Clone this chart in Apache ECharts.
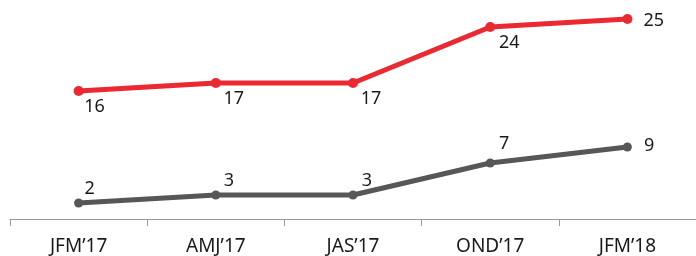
<!DOCTYPE html>
<html>
<head>
<meta charset="utf-8">
<style>
  html, body { margin: 0; padding: 0; background: #fff; }
  #chart { width: 696px; height: 256px; }
</style>
<script src="https://cdn.jsdelivr.net/npm/echarts@6/dist/echarts.min.js"></script>
</head>
<body>
<div id="chart"></div>
<script>
// quarters on the x axis
const quarters = ["JFM\u201917", "AMJ\u201917", "JAS\u201917", "OND\u201917", "JFM\u201918"];
// upper (red) line
const redValues = [16, 17, 17, 24, 25];
// lower (grey) line
const greyValues = [2, 3, 3, 7, 9];

const labelFont = { fontFamily: "Noto Sans", fontSize: 18, color: "#1a1a1a" };

// label nudges per point
const redLabelOffsets = [[16, 0], [18, 0], [18, 0], [19, 0], [0, 2]];
const greyLabelOffsets = [[11, 0], [13, 0], [14, 0], [14, -5], [0, -1]];

const chart = echarts.init(document.getElementById("chart"));

chart.setOption({
  animation: false,
  grid: { left: 10, right: 0, top: 3, bottom: 32 },
  xAxis: {
    type: "category",
    data: quarters,
    boundaryGap: true,
    axisLine: { lineStyle: { color: "#9a9a9a", width: 1 } },
    axisTick: { show: true, length: 7, lineStyle: { color: "#9a9a9a" } },
    axisLabel: { fontFamily: "Noto Sans", fontSize: 19, color: "#1a1a1a", margin: 13 }
  },
  yAxis: {
    type: "value",
    min: -0.625,
    max: 27,
    show: false,
    splitLine: { show: false }
  },
  series: [
    {
      type: "line",
      data: redValues.map((v, i) => ({
        value: v,
        label: {
          position: i === 4 ? "right" : "bottom",
          offset: redLabelOffsets[i],
          distance: i === 4 ? 11 : 2
        }
      })),
      symbol: "circle",
      symbolSize: 10,
      itemStyle: { color: "#ec2830" },
      lineStyle: { color: "#ec2830", width: 5 },
      label: Object.assign({ show: true }, labelFont)
    },
    {
      type: "line",
      data: greyValues.map((v, i) => ({
        value: v,
        label: {
          position: i === 4 ? "right" : "top",
          offset: greyLabelOffsets[i],
          distance: i === 4 ? 12 : 1
        }
      })),
      symbol: "circle",
      symbolSize: 9,
      itemStyle: { color: "#575757" },
      lineStyle: { color: "#575757", width: 5 },
      label: Object.assign({ show: true }, labelFont)
    }
  ]
});
</script>
</body>
</html>
